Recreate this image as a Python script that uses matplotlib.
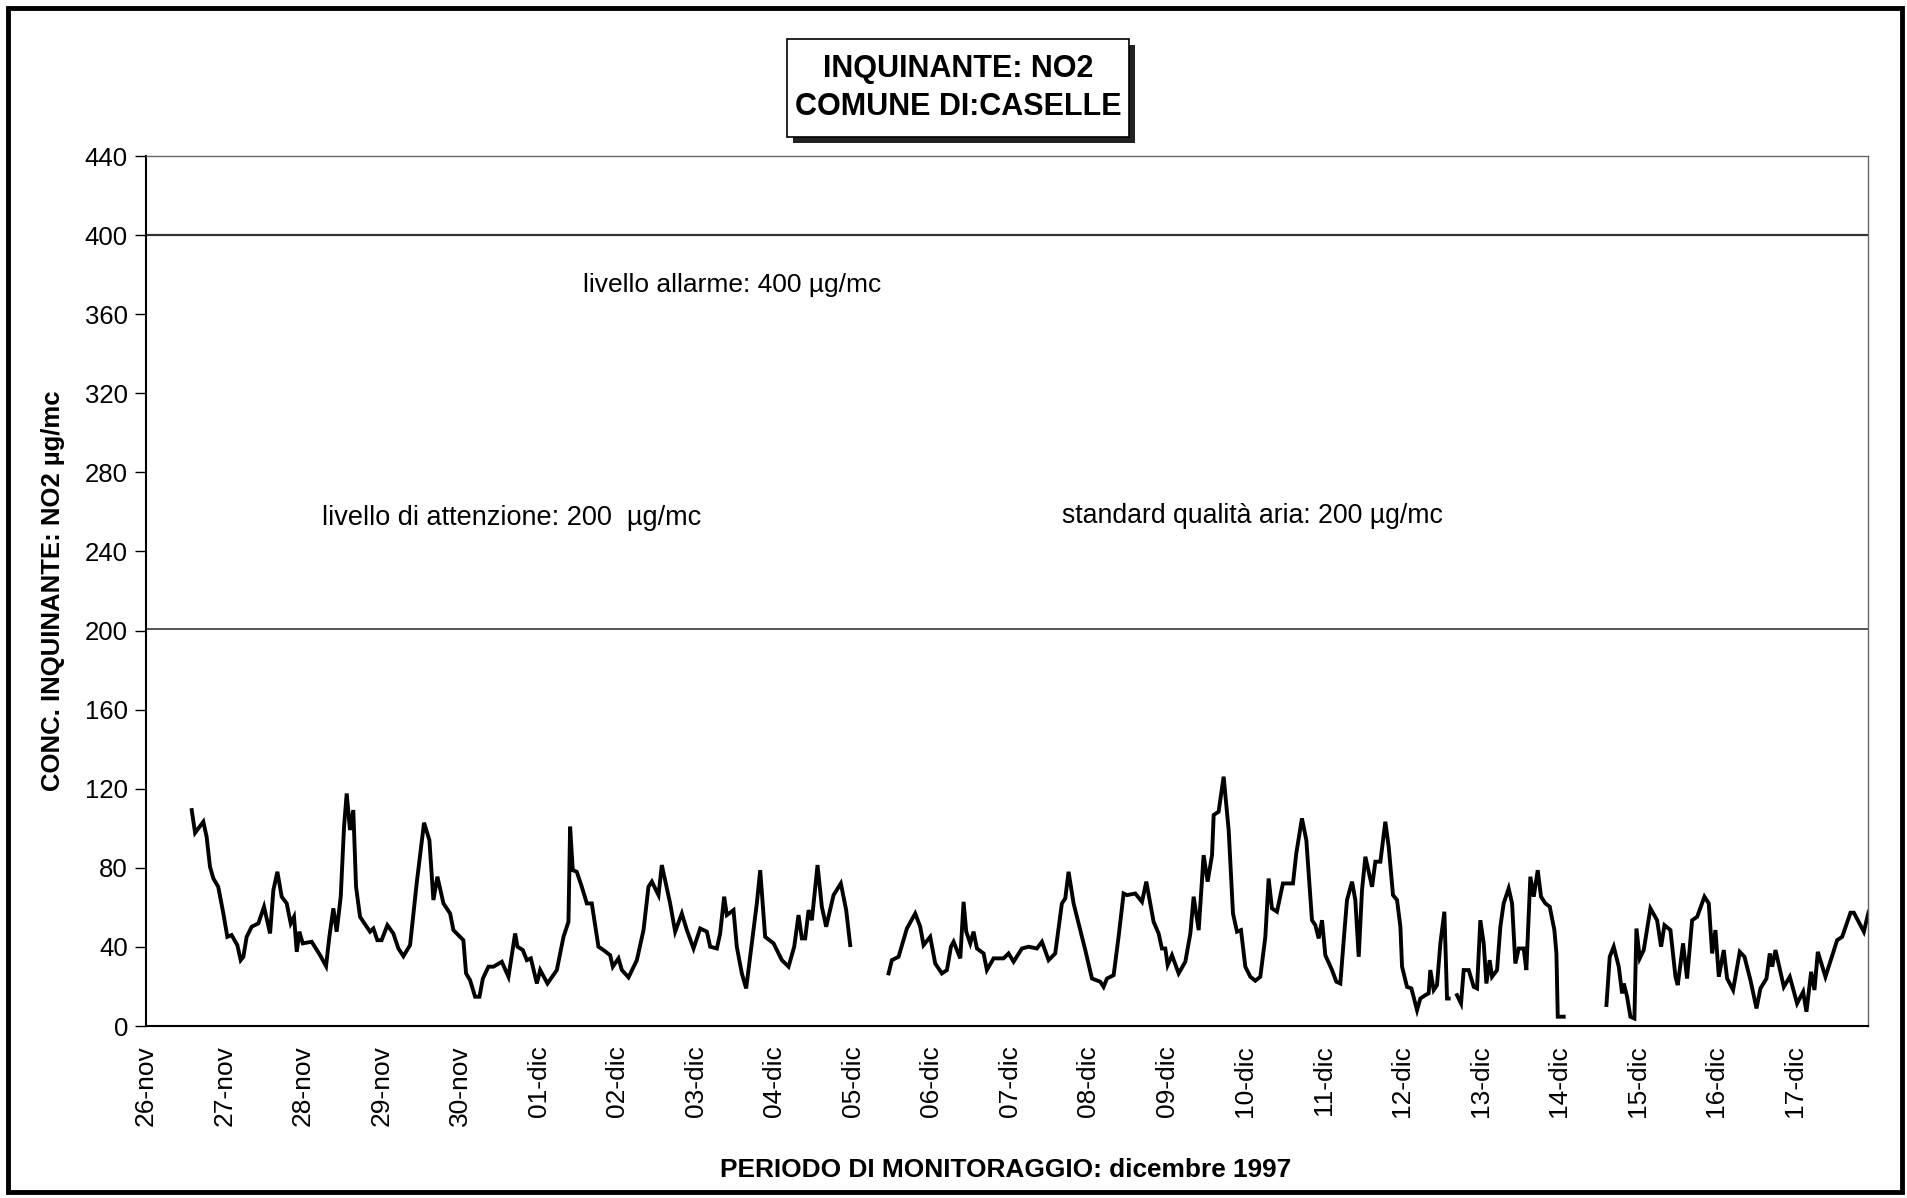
import matplotlib.pyplot as plt
from matplotlib.patches import Rectangle
import numpy as np

plt.rcParams['font.family'] = ['Liberation Sans', 'DejaVu Sans']

# day labels (one per day, starting 26-nov)
day_labels = ["26-nov", "27-nov", "28-nov", "29-nov", "30-nov",
              "01-dic", "02-dic", "03-dic", "04-dic", "05-dic", "06-dic",
              "07-dic", "08-dic", "09-dic", "10-dic", "11-dic", "12-dic",
              "13-dic", "14-dic", "15-dic", "16-dic", "17-dic"]
y_ticks = list(range(0, 441, 40))

# NO2 readings: time in days since 26-nov 00:00
seg1_days = [0.582, 0.625, 0.73, 0.772, 0.815, 0.858, 0.92, 0.985, 1.036, 1.09,
             1.163, 1.206, 1.24, 1.282, 1.346, 1.431, 1.503, 1.58, 1.622, 1.673,
             1.728, 1.792, 1.843, 1.885, 1.92, 1.953, 1.996, 2.11, 2.217, 2.293,
             2.335, 2.386, 2.428, 2.48, 2.522, 2.556, 2.598, 2.64, 2.675, 2.726,
             2.853, 2.896, 2.946, 3.0, 3.074, 3.15, 3.214, 3.278, 3.363, 3.447,
             3.541, 3.609, 3.66, 3.711, 3.788, 3.873, 3.915, 4.042, 4.076, 4.127,
             4.191, 4.247, 4.29, 4.361, 4.425, 4.531, 4.616, 4.701, 4.731, 4.799,
             4.85, 4.901, 4.978, 5.02, 5.113, 5.232, 5.317, 5.38, 5.401, 5.435,
             5.486, 5.55, 5.614, 5.677, 5.762, 5.826, 5.911, 5.945, 6.017, 6.06,
             6.145, 6.251, 6.336, 6.399, 6.442, 6.527, 6.569, 6.675, 6.739, 6.824,
             6.888, 6.973, 7.058, 7.143, 7.185, 7.27, 7.312, 7.363, 7.397, 7.482,
             7.524, 7.588, 7.643, 7.715, 7.779, 7.822, 7.885, 7.992, 8.098, 8.183,
             8.255, 8.31, 8.353, 8.395, 8.438, 8.48, 8.552, 8.607, 8.662, 8.756,
             8.849, 8.917, 8.968]
seg1_no2 = [109.2, 97.7, 103.3, 95.7, 80.5, 74.6, 70.4, 56.9, 45.1, 46,
            40.9, 33.3, 35, 45.1, 50.2, 51.9, 60.3, 46.8, 68.7, 78,
            65.4, 62, 51.9, 55.2, 37.5, 47.7, 41.8, 42.6, 35.8, 30.3,
            45.1, 59.5, 47.7, 65.4, 100.8, 117.6, 99.1, 109.2, 70.4, 55.2,
            47.7, 49.3, 43.4, 43.4, 51, 46.8, 39.2, 35.3, 40.9, 72.1,
            102.8, 94, 63.7, 75.5, 62, 56.9, 48.5, 43.4, 26.6, 23.2,
            14.8, 14.8, 24, 30, 30, 32.5, 24.9, 46.8, 40.1, 38.4,
            33.3, 34.2, 21.5, 28.3, 21.5, 28.3, 45.1, 52.7, 100.8, 78.8,
            78, 70.4, 62, 62, 40.1, 38.4, 35.8, 30, 34.2, 28.3,
            24.6, 33.3, 48.5, 70.4, 73, 66.2, 81.4, 62, 47.7, 56.9,
            48.5, 39.2, 49.3, 47.7, 40.1, 39.2, 46.8, 65.4, 56.1, 58.6,
            40.1, 26.6, 19, 41.8, 62, 78.8, 45.1, 41.8, 33.3, 30,
            40.1, 56.1, 44.3, 44.3, 58.6, 53.5, 81.4, 60.3, 50.2, 66.2,
            72.1, 58.6, 40.9]

seg2_days = [9.457, 9.499, 9.584, 9.69, 9.796, 9.86, 9.902, 9.987, 10.051, 10.136,
             10.2, 10.251, 10.285, 10.37, 10.412, 10.446, 10.497, 10.539, 10.582, 10.667,
             10.709, 10.794, 10.921, 10.985, 11.049, 11.155, 11.24, 11.346, 11.41, 11.495,
             11.579, 11.664, 11.707, 11.749, 11.813, 11.898, 11.962, 12.047, 12.153, 12.195,
             12.238, 12.323, 12.386, 12.45, 12.492, 12.599, 12.684, 12.739, 12.832, 12.896,
             12.938, 12.981, 13.011, 13.066, 13.151, 13.236, 13.3, 13.342, 13.406, 13.469,
             13.52, 13.576, 13.597, 13.66, 13.724, 13.788, 13.843, 13.894, 13.945, 14.0,
             14.064, 14.127, 14.191, 14.255, 14.297, 14.339, 14.403, 14.479, 14.53, 14.607,
             14.649, 14.721, 14.777, 14.849, 14.892, 14.934, 14.977, 15.019, 15.104, 15.159,
             15.21, 15.253, 15.295, 15.359, 15.401, 15.444, 15.486, 15.529, 15.614, 15.656,
             15.72, 15.783, 15.826, 15.881, 15.932, 15.975, 15.996, 16.059, 16.115, 16.187,
             16.229, 16.293, 16.335, 16.356, 16.399, 16.441, 16.484, 16.535, 16.569, 16.59]
seg2_no2 = [26.6, 33.3, 35, 49.3, 56.9, 50.2, 40.9, 45.1, 31.6, 26.6,
            28.3, 40.1, 42.6, 34.2, 62.8, 47.7, 41.8, 47.7, 39.2, 36.7,
            28.3, 34.2, 34.2, 36.7, 32.5, 39.2, 40.1, 39.2, 42.6, 33.3,
            36.7, 62, 64.5, 78, 62, 48.5, 38.4, 24, 22.4, 19.8,
            24, 25.7, 45.1, 67, 66.2, 67, 62.8, 73, 52.7, 46.8,
            39.2, 39.2, 30.8, 35.8, 26.6, 32.5, 46.8, 65.4, 48.5, 86.4,
            73, 86.4, 106.7, 108.4, 126.1, 99.1, 56.9, 47.7, 48.5, 30,
            24.9, 22.9, 24.9, 45.1, 74.6, 59.5, 57.8, 72.1, 72.1, 72.1,
            87.3, 105, 94, 53.5, 51, 44.3, 53.5, 35.8, 28.3, 22.4,
            21.5, 43.4, 63.7, 73, 63.7, 35, 68.7, 85.6, 70.4, 83.1,
            83.1, 103.3, 90.6, 66.2, 63.7, 50.2, 30, 19.8, 19, 8,
            13.9, 15.6, 16.5, 28.3, 18.2, 20.7, 41.8, 57.8, 13.9, 13.9]

seg3_days = [16.696, 16.747, 16.781, 16.845, 16.909, 16.951, 16.993, 17.036, 17.07, 17.112,
             17.142, 17.206, 17.248, 17.29, 17.354, 17.397, 17.439, 17.482, 17.545, 17.579,
             17.63, 17.673, 17.724, 17.766, 17.821, 17.877, 17.936, 17.962, 17.979, 18.055]
seg3_no2 = [15.6, 11.4, 28.3, 28.3, 19.8, 19, 53.5, 41.8, 21.5, 33.3,
            24.9, 28.3, 50.2, 62, 69.6, 62, 31.6, 39.2, 39.2, 28.3,
            75.5, 65.4, 78.8, 65.4, 62, 60.3, 48.5, 36.7, 4.7, 4.7]

seg4_days = [18.599, 18.641, 18.692, 18.756, 18.798, 18.82, 18.862, 18.904, 18.955, 18.981,
             19.023, 19.074, 19.159, 19.244, 19.295, 19.338, 19.414, 19.478, 19.507, 19.575,
             19.626, 19.69, 19.754, 19.847, 19.902, 19.945, 19.987, 20.03, 20.093, 20.136,
             20.212, 20.297, 20.357, 20.433, 20.51, 20.56, 20.637, 20.679, 20.709, 20.752,
             20.858, 20.934, 21.027, 21.104, 21.146, 21.206, 21.248, 21.291, 21.388, 21.537,
             21.601, 21.707, 21.75, 21.877, 21.928, 21.971]
seg4_no2 = [10.6, 35, 40.1, 30, 16.5, 21.5, 14.8, 4.7, 3.8, 49.3,
            34.2, 38.4, 59.5, 53.5, 40.1, 51, 48.5, 24.9, 20.7, 41.8,
            24, 53.5, 55.2, 65.4, 62, 36.7, 48.5, 24.9, 38.4, 24,
            18.2, 37.5, 35, 23.2, 8.9, 19, 24, 36.7, 30, 38.4,
            19.8, 24.9, 11.4, 17.3, 7.2, 27.4, 18.2, 37.5, 24.9, 43.4,
            45.1, 57.3, 57.3, 47.7, 56.1, 52.2]

limit_alarm = 400
limit_attention = 200

W, H = 1908, 1198
fig = plt.figure(figsize=(W / 100, H / 100), dpi=100)
ax = fig.add_axes([146 / W, 1 - 1026 / H, 1722 / W, 870 / H])

for d, v in [(seg1_days, seg1_no2), (seg2_days, seg2_no2),
             (seg3_days, seg3_no2), (seg4_days, seg4_no2)]:
    ax.plot(d, v, color='black', lw=2.8, solid_joinstyle='miter')

ax.axhline(limit_alarm, color='#333333', lw=1.6)
ax.axhline(limit_attention + 1, color='#555555', lw=1.4)

ax.text(5.57, 375, "livello allarme: 400 µg/mc", fontsize=19, va='center')
ax.text(2.24, 257, "livello di attenzione: 200  µg/mc", fontsize=19.5, va='center')
ax.text(11.67, 258, "standard qualità aria: 200 µg/mc", fontsize=19.2, va='center')

ax.set_xlim(0, 21.93)
ax.set_ylim(0, 440)
ax.set_yticks(y_ticks)
ax.set_xticks(range(len(day_labels)))
ax.set_xticklabels(day_labels, rotation=90, fontsize=19)
ax.tick_params(axis='y', labelsize=18.5, length=8, width=1, pad=5, direction='out')
ax.tick_params(axis='x', length=0, pad=14)

for s in ['left', 'bottom']:
    ax.spines[s].set_linewidth(1.5)
for s in ['top', 'right']:
    ax.spines[s].set_linewidth(1.0)
    ax.spines[s].set_color('#666666')

ax.set_ylabel("CONC. INQUINANTE: NO2 µg/mc", fontsize=18.5, fontweight='bold')
ax.yaxis.set_label_coords(-0.047, 0.5)
ax.set_xlabel("PERIODO DI MONITORAGGIO: dicembre 1997", fontsize=18.9, fontweight='bold')
ax.xaxis.set_label_coords(0.4994, -0.152)

# title box with drop shadow
fig.patches.append(Rectangle((793 / W, 1 - 143 / H), 342 / W, 98 / H,
                             transform=fig.transFigure, facecolor='#222222',
                             edgecolor='none', zorder=1))
fig.patches.append(Rectangle((787 / W, 1 - 137 / H), 342 / W, 98 / H,
                             transform=fig.transFigure, facecolor='white',
                             edgecolor='black', lw=1.2, zorder=2))
fig.text(958 / W, 1 - 88 / H, "INQUINANTE: NO2\nCOMUNE DI:CASELLE", ha='center',
         va='center', fontsize=22, fontweight='bold', linespacing=1.35, zorder=3)

# outer frame
fig.patches.append(Rectangle((8 / W, 6 / H), 1894 / W, 1184 / H,
                             transform=fig.transFigure, facecolor='none',
                             edgecolor='black', lw=3.5))

fig.savefig("out.png", dpi=100)
